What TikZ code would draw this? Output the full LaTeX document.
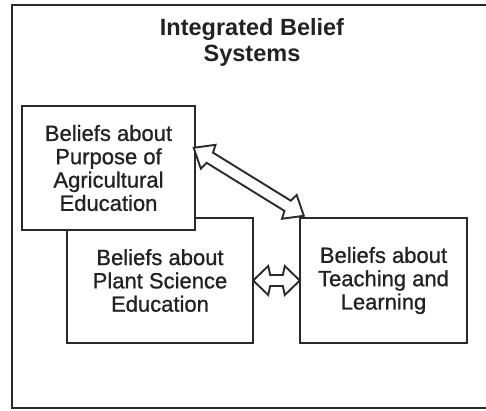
\documentclass[tikz,border=0pt]{standalone}
\usepackage{fontspec}
\setmainfont{Liberation Sans}
\newfontfamily\boxfont[FakeBold=0.9]{Liberation Sans}
\usetikzlibrary{calc}
\definecolor{linegray}{HTML}{2A2A2A}
\definecolor{textgray}{HTML}{222222}
\tikzset{
  beliefbox/.style={draw=linegray, line width=2.4pt, fill=white, align=center,
    text=textgray, font=\boxfont\fontsize{22}{23.3}\selectfont, inner sep=0pt},
  titletext/.style={align=center, text=textgray, font=\bfseries\fontsize{23.5}{26}\selectfont},
  hollowarrow/.style={draw=linegray, line width=1.9pt, fill=white, line join=miter},
  frameline/.style={draw=linegray, line width=2.4pt}
}
\newcommand\dblarrow[5]{%
  \path[hollowarrow] let \p1=($(#2)-(#1)$), \n1={atan2(\y1,\x1)}, \n2={veclen(\x1,\y1)} in
   [shift={(#1)}, rotate=\n1]
   (0,0) -- (#5,#4) -- (#5+2,#3) -- (\n2-#5-2,#3) -- (\n2-#5,#4) -- (\n2,0)
   -- (\n2-#5,-#4) -- (\n2-#5-2,-#3) -- (#5+2,-#3) -- (#5,-#4) -- cycle;
}
\begin{document}
\begin{tikzpicture}[x=1pt,y=1pt]
\useasboundingbox (0,0) rectangle (486,410);
% outer frame (right side runs off the picture)
\draw[frameline] (490,405) -- (12,405) -- (12,2) -- (490,2);
\node[titletext] (title) at (252,368) {Integrated Belief\\Systems};
% boxes
\node[beliefbox, minimum width=186pt, minimum height=125pt] (plant) at (160,129.5)
  {Beliefs about\\Plant Science\\Education};
\node[beliefbox, minimum width=173pt, minimum height=124pt] (purpose) at (108.5,242)
  {Beliefs about\\Purpose of\\Agricultural\\Education};
\node[beliefbox, minimum width=167pt, minimum height=125pt] (teach) at (383.5,129.5)
  {Beliefs about\\Teaching and\\Learning};
% arrow end points
\coordinate (pA) at ($($(purpose.north east)!0.34!(purpose.south east)$)+(-2.5,0)$);
\coordinate (pC) at ($(teach.north west)+(5,1)$);
\coordinate (pB) at ($(plant.east)+(-1,0)$);
\coordinate (pD) at ($(teach.west)+(1,0)$);
\dblarrow{pA}{pC}{6}{14}{17}
\dblarrow{pB}{pD}{5.5}{14.5}{15}
\end{tikzpicture}
\end{document}
